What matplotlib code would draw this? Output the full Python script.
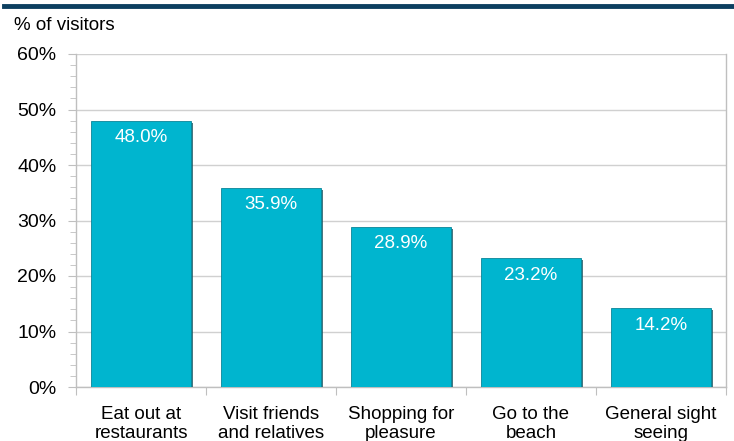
import matplotlib

matplotlib.use("Agg")
import matplotlib.pyplot as plt
import matplotlib.patheffects as pe
from matplotlib.lines import Line2D
from matplotlib.ticker import MultipleLocator, FuncFormatter

categories = ["Eat out at\nrestaurants", "Visit friends\nand relatives", "Shopping for\npleasure",
              "Go to the\nbeach", "General sight\nseeing"]
values = [48.0, 35.9, 28.9, 23.2, 14.2]

plt.rcParams["font.family"] = ["Liberation Sans", "DejaVu Sans"]

fig = plt.figure(figsize=(7.34, 4.41), dpi=100)
ax = fig.add_axes([76 / 734, 1 - 387 / 441, 650 / 734, 333 / 441])

x = list(range(len(values)))
bars = ax.bar(x, values, width=0.77, color="#00b5cf", edgecolor="#0a8598", linewidth=0.6, zorder=3)
for b in bars:
    b.set_path_effects([pe.SimplePatchShadow(offset=(1.5, -1.5), shadow_rgbFace="#1d5560", alpha=0.8),
                        pe.Normal()])

for xi, v in zip(x, values):
    ax.text(xi, v - 1.5, f"{v:.1f}%", ha="center", va="top", color="white", fontsize=13.5, zorder=4)

ax.set_xlim(-0.5, len(values) - 0.5)
ax.set_ylim(0, 60)
ax.yaxis.set_major_locator(MultipleLocator(10))
ax.yaxis.set_minor_locator(MultipleLocator(2))
ax.yaxis.set_major_formatter(FuncFormatter(lambda v, p: f"{v:.0f}%"))
ax.grid(axis="y", color="#d0d0d0", linewidth=1, zorder=0)
ax.tick_params(axis="y", which="major", length=6, color="#bfbfbf", labelsize=14, pad=8)
ax.tick_params(axis="y", which="minor", length=4, color="#bfbfbf")

ax.set_xticks([i + 0.5 for i in range(-1, len(values))], minor=False)
ax.set_xticklabels([])
ax.tick_params(axis="x", which="major", length=6, color="#bfbfbf")
ax.set_xticks(x, minor=True)
ax.set_xticklabels(categories, minor=True, fontsize=13.5, linespacing=1.1)
ax.tick_params(axis="x", which="minor", length=0, pad=14)

for side in ["left", "bottom", "right"]:
    ax.spines[side].set_color("#bfbfbf")
    ax.spines[side].set_linewidth(1)
ax.spines["top"].set_visible(False)

fig.text(14 / 734, 1 - 25 / 441, "% of visitors", fontsize=13.5, va="center", ha="left")
fig.add_artist(Line2D([4 / 734, 1], [1 - 5.5 / 441, 1 - 5.5 / 441], color="#0c3f60", linewidth=3.5,
                      transform=fig.transFigure))

fig.savefig("out.png", dpi=100)
